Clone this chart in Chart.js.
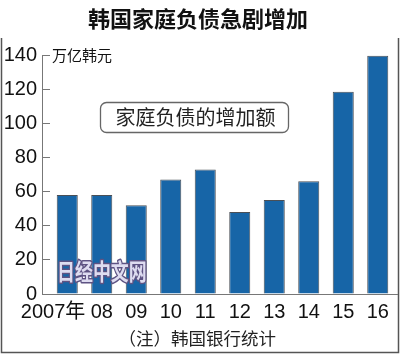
<!DOCTYPE html>
<html>
<head>
<meta charset="utf-8">
<script src="https://cdn.jsdelivr.net/npm/chart.js@4/dist/chart.umd.min.js"></script>
<style>
  html, body { margin: 0; padding: 0; background: #fff; }
</style>
</head>
<body>
<canvas id="ch" width="400" height="354"></canvas>
<script>
// ── Datos ────────────────────────────────────────────────────────────────
const years   = ['2007年', '08', '09', '10', '11', '12', '13', '14', '15', '16'];
const debtInc = [58, 58, 52, 67, 73, 48, 55, 66, 118.5, 139.5];
const yMin = 0, yMax = 140, yStep = 20;

const TITLE    = '韩国家庭负债急剧增加';
const UNIT     = '万亿韩元';
const LEGEND   = '家庭负债的增加额';
const NOTE     = '（注）韩国银行统计';
const WATERMARK = '日经中文网';

const CJK  = '"Noto Sans CJK SC", sans-serif';
const NUM  = '"Liberation Sans", Arial, "Noto Sans CJK SC", sans-serif';
const AXIS = '#777';

// ── Decoracion: marco, titulo, ejes, etiquetas ───────────────────────────
const decor = {
    id: 'decor',
    beforeDraw(chart) {
        const { ctx } = chart;
        ctx.save();
        ctx.fillStyle = '#fff';
        ctx.fillRect(0, 0, chart.width, chart.height);

        // marco
        ctx.strokeStyle = '#555'; ctx.lineWidth = 1.5;
        ctx.beginPath();
        ctx.moveTo(1.5, 38); ctx.lineTo(1.5, 352.5);
        ctx.lineTo(398.5, 352.5); ctx.lineTo(398.5, 38);
        ctx.stroke();

        // titulo
        ctx.fillStyle = '#111';
        ctx.textAlign = 'center'; ctx.textBaseline = 'middle';
        ctx.font = 'bold 22px ' + CJK;
        ctx.fillText(TITLE, 198, 19);

        // unidad
        ctx.textAlign = 'left';
        ctx.font = '15px ' + CJK;
        ctx.fillText(UNIT, 52, 55.5);

        // leyenda
        ctx.strokeStyle = '#666'; ctx.lineWidth = 1.3;
        ctx.beginPath();
        ctx.roundRect(100.5, 102.5, 188, 30, 6);
        ctx.stroke();
        ctx.fillStyle = '#222';
        ctx.textAlign = 'center';
        ctx.font = '20px ' + CJK;
        ctx.fillText(LEGEND, 195.5, 117.5);

        // nota
        ctx.textAlign = 'right';
        ctx.font = '17.5px ' + CJK;
        ctx.fillText(NOTE, 276, 338);
        ctx.restore();
    },
    afterDatasetsDraw(chart) {
        const { ctx, chartArea: a, scales } = chart;
        const y0 = scales.y.getPixelForValue(0);
        const yTop = scales.y.getPixelForValue(yMax);
        ctx.save();

        // ejes
        ctx.strokeStyle = AXIS; ctx.lineWidth = 1;
        ctx.beginPath();
        ctx.moveTo(a.left - 7.5, yTop); ctx.lineTo(a.left - 7.5, y0 + 0.5);
        ctx.moveTo(a.left - 8, y0 + 0.5); ctx.lineTo(398, y0 + 0.5);
        ctx.stroke();

        // etiquetas X
        ctx.fillStyle = '#111';
        ctx.font = '20px ' + NUM;
        ctx.textBaseline = 'alphabetic';
        years.forEach((lab, i) => {
            const x = scales.x.getPixelForValue(i);
            if (i === 0) { ctx.textAlign = 'right'; ctx.fillText(lab, x + 18, 318); }
            else         { ctx.textAlign = 'center'; ctx.fillText(lab, x, 318); }
        });

        // marca de agua
        ctx.translate(57, 280);
        ctx.scale(0.78, 1);
        ctx.font = 'bold 23px ' + CJK;
        ctx.textAlign = 'left';
        ctx.lineJoin = 'round';
        ctx.strokeStyle = '#5e5383'; ctx.lineWidth = 3;
        ctx.strokeText(WATERMARK, 0, 0);
        ctx.fillStyle = '#dedcf0';
        ctx.fillText(WATERMARK, 0, 0);
        ctx.restore();
    },
};

new Chart(document.getElementById('ch').getContext('2d'), {
    type: 'bar',
    data: {
        labels: years,
        datasets: [{
            label: LEGEND,
            data: debtInc,
            backgroundColor: '#1765a7',
            borderColor: '#4a4f56',
            borderWidth: 1,
            barPercentage: 0.61,
            categoryPercentage: 1,
        }],
    },
    options: {
        responsive: false,
        animation: false,
        layout: { padding: { left: 0, right: 5, top: 55, bottom: 0 } },
        plugins: { legend: { display: false }, tooltip: { enabled: false }, title: { display: false } },
        scales: {
            x: {
                grid: { display: false },
                border: { display: false },
                ticks: { display: false },
                afterFit: s => { s.height = 60; },
            },
            y: {
                min: yMin, max: yMax,
                grid: { drawOnChartArea: false, drawTicks: true, tickLength: 8, color: AXIS },
                border: { display: false },
                ticks: {
                    stepSize: yStep, padding: 5, color: '#111',
                    font: { family: NUM, size: 20 },
                },
                afterFit: s => { s.width = 50; },
            },
        },
    },
    plugins: [decor],
});
</script>
</body>
</html>
